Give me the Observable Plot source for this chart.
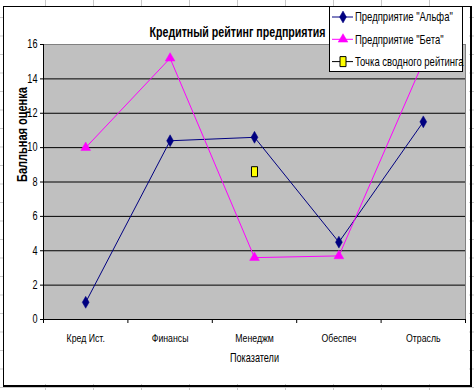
<!DOCTYPE html>
<html>
<head>
<meta charset="utf-8">
<script src="https://cdn.jsdelivr.net/npm/d3@7"></script>
<script src="https://cdn.jsdelivr.net/npm/@observablehq/plot@0.6"></script>
<style>
  body { margin: 0; background: #fff; }
  #wrap {
    position: relative; width: 474px; height: 390px; overflow: hidden;
    background-color: #fff;
    background-image:
      linear-gradient(to right, #c8c8c8 1px, transparent 1px),
      linear-gradient(to bottom, #c8c8c8 1px, transparent 1px);
    background-size: 48px 18.5px;
    background-position: 45px 17px;
  }
  #paper { position: absolute; left: 3px; top: 6px; width: 466px; height: 378px; background: #fff; }
  #border { position: absolute; left: 3px; top: 6px; width: 466px; height: 378px;
            border-left: 1px solid #000; border-top: 1px solid #000;
            border-right: 2px solid #000; border-bottom: 2px solid #000; box-sizing: content-box; pointer-events: none; }
  #chart { position: absolute; left: 0; top: 0; }
  #legend { position: absolute; left: 329px; top: 6px; }
</style>
</head>
<body>
<div id="wrap">
  <div id="paper"></div>
  <div id="chart"></div>
  <div id="border"></div>
  <div id="legend"></div>
</div>
<script>
const categories = ["Кред Ист.", "Финансы", "Менеджм", "Обеспеч", "Отрасль"];
const alphaValues = [1.0, 10.4, 10.6, 4.5, 11.5];
const betaValues = [10.0, 15.2, 3.6, 3.7, 15.0];
const summaryCategory = "Менеджм";
const summaryValue = 8.6;
const yTicks = [0, 2, 4, 6, 8, 10, 12, 14, 16];
const seriesNames = ['Предприятие "Альфа"', 'Предприятие "Бета"', 'Точка сводного рейтинга'];
const chartTitle = "Кредитный рейтинг предприятия";
const xTitle = "Показатели";
const yTitle = "Балльная оценка";

const FONT = '"Liberation Sans", Arial, sans-serif';
const SQUEEZE = 0.76;
const navy = "#000080", magenta = "#FF00FF", yellow = "#FFFF00";

const pos = c => categories.indexOf(c) + 0.5;
const alpha = categories.map((c, i) => ({x: pos(c), y: alphaValues[i]}));
const beta = categories.map((c, i) => ({x: pos(c), y: betaValues[i]}));
const summary = [{x: pos(summaryCategory), y: summaryValue}];

const tallRect = { draw(ctx) { ctx.rect(-3, -5, 6, 10); } };

const chart = Plot.plot({
  width: 474, height: 390,
  marginLeft: 43, marginRight: 9, marginTop: 44, marginBottom: 71,
  style: {fontFamily: FONT, fontSize: "11px", color: "#000", backgroundColor: "transparent", overflow: "visible"},
  x: {type: "linear", domain: [0, categories.length], axis: null},
  y: {domain: [0, 16], axis: null},
  marks: [
    Plot.frame({fill: "#C0C0C0", stroke: "#808080"}),
    Plot.gridY(yTicks.filter(t => t > 0 && t < 16), {stroke: "#000", strokeOpacity: 1}),
    Plot.ruleX([0], {stroke: "#000"}),
    Plot.ruleY([0], {stroke: "#000"}),
    Plot.axisY({ticks: yTicks, tickSize: 3, tickPadding: 3, stroke: "#000", fontSize: 12, label: null}),
    Plot.axisX({ticks: d3.range(categories.length + 1), tickSize: 4, tickFormat: () => "", stroke: "#000", label: null}),
    Plot.axisX({ticks: categories.map(pos), tickSize: 0, tickPadding: 14, tickFormat: v => categories[Math.floor(v)], fontSize: 11.5, label: null}),
    Plot.line(alpha, {x: "x", y: "y", stroke: navy, strokeWidth: 1}),
    Plot.dot(alpha, {x: "x", y: "y", symbol: "diamond", r: 3.6, fill: navy, stroke: navy, strokeWidth: 0.5}),
    Plot.line(beta, {x: "x", y: "y", stroke: magenta, strokeWidth: 1}),
    Plot.dot(beta, {x: "x", y: "y", symbol: "triangle", r: 3.6, fill: magenta, stroke: magenta, strokeWidth: 0.5}),
    Plot.dot(summary, {x: "x", y: "y", symbol: tallRect, fill: yellow, stroke: "#000", strokeWidth: 1}),
    Plot.text([chartTitle], {frameAnchor: "top", dx: -17, dy: -17, fontWeight: "bold", fontSize: 14, textAnchor: "middle"}),
    Plot.text([xTitle], {frameAnchor: "bottom", dy: 42, fontSize: 12}),
    Plot.text([yTitle], {frameAnchor: "left", dx: -21, rotate: -90, fontWeight: "bold", fontSize: 14.5})
  ]
});
document.getElementById("chart").appendChild(chart);

// Legend
const lw = 133, lh = 65;
const leg = d3.select("#legend").append("svg")
  .attr("width", lw + 2).attr("height", lh + 2)
  .style("font-family", FONT).style("font-size", "12.5px");
leg.append("rect").attr("x", 0.5).attr("y", 0.5).attr("width", lw).attr("height", lh)
  .attr("fill", "#fff").attr("stroke", "#000");
const items = [
  {name: seriesNames[0], stroke: navy, sym: d3.symbol(d3.symbolDiamond, 3.6 * 3.6 * Math.PI)(), fill: navy, mstroke: navy},
  {name: seriesNames[1], stroke: magenta, sym: d3.symbol(d3.symbolTriangle, 3.6 * 3.6 * Math.PI)(), fill: magenta, mstroke: magenta},
  {name: seriesNames[2], stroke: "#000", sym: "M-3,-5h6v10h-6z", fill: yellow, mstroke: "#000"}
];
items.forEach((it, i) => {
  const cy = 11 + i * 22.3;
  const g = leg.append("g").attr("transform", `translate(0,${cy})`);
  g.append("line").attr("x1", 3).attr("x2", 24).attr("y1", 0).attr("y2", 0).attr("stroke", it.stroke);
  g.append("path").attr("d", it.sym).attr("transform", "translate(14,0)").attr("fill", it.fill).attr("stroke", it.mstroke).attr("stroke-width", i === 2 ? 1 : 0.5);
  g.append("text").attr("x", 26).attr("y", 0).attr("dy", "0.35em").text(it.name);
});

// Condense all text horizontally (along its own baseline) to mimic the narrow rendering of the original
document.querySelectorAll("#wrap svg text").forEach(t => {
  const x = parseFloat(t.getAttribute("x") || "0");
  const prev = t.getAttribute("transform") || "";
  t.setAttribute("x", (x / SQUEEZE).toFixed(3));
  t.querySelectorAll("tspan[x]").forEach(s => s.setAttribute("x", (parseFloat(s.getAttribute("x")) / SQUEEZE).toFixed(3)));
  t.setAttribute("transform", `${prev} scale(${SQUEEZE},1)`.trim());
});
</script>
</body>
</html>
